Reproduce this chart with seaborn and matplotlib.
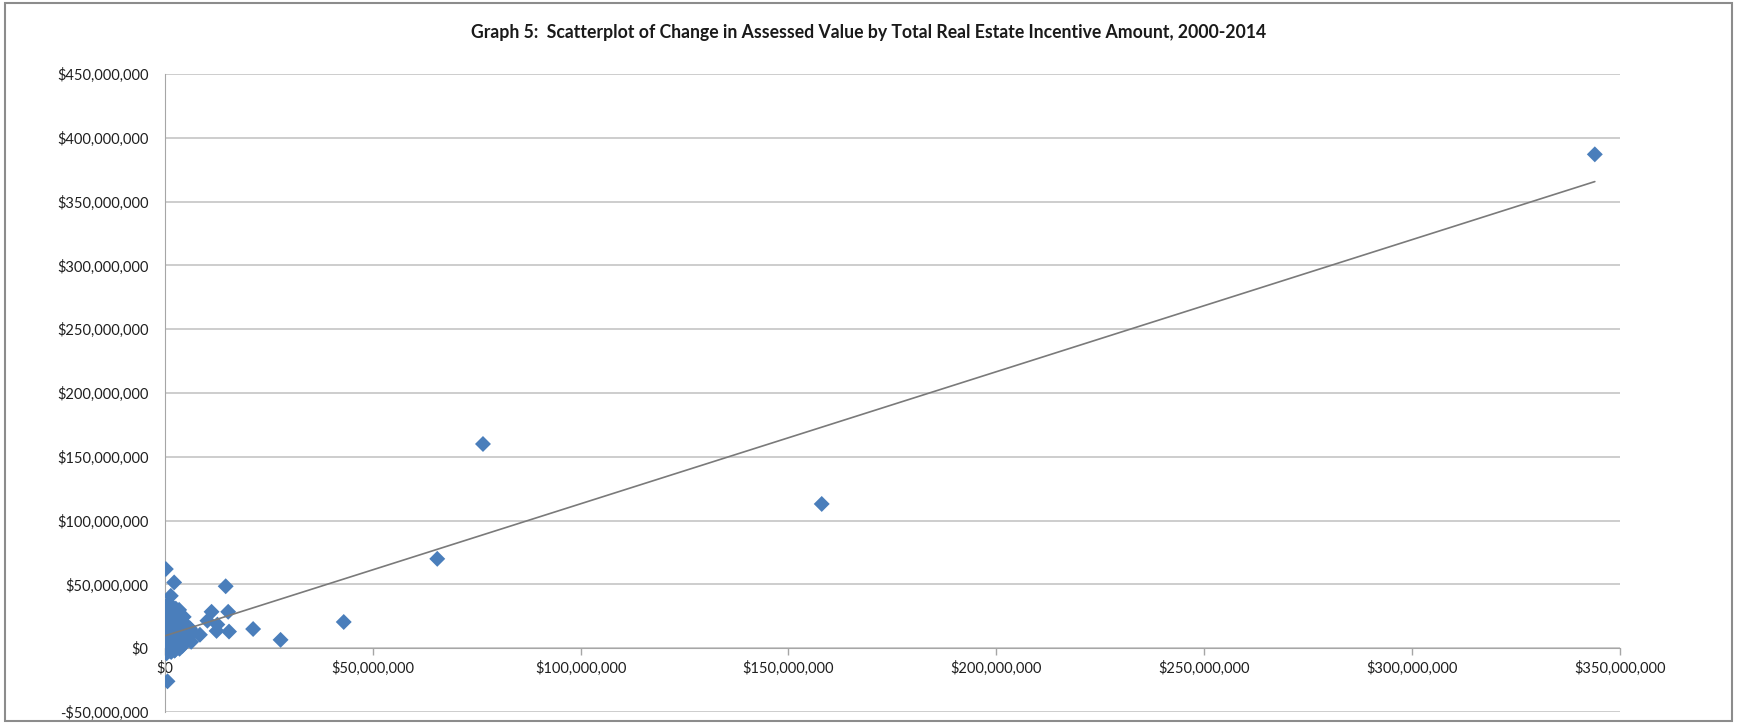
import matplotlib
matplotlib.use("Agg")

import matplotlib.pyplot as plt
import numpy as np
import pandas as pd
import seaborn as sns
from matplotlib.patches import Rectangle
from matplotlib.ticker import FuncFormatter, MultipleLocator

# Werte in Mio. $
incentive_m = [
    344.0, 158.0, 76.5, 65.5, 43.0, 27.8, 21.2, 15.4, 15.2, 14.6, 12.6, 12.4,
    11.2, 10.2, 8.4, 2.2, 1.4, 0.2, 0.6,
    # dichter Haufen nahe 0
    0.3, 1.0, 2.6, 3.4, 0.8, 1.8,
    0.1, 0.6, 1.3, 2.2, 3.0, 3.8, 4.5, 0.4, 1.7, 2.8,
    0.2, 0.9, 1.6, 2.4, 3.2, 4.0, 4.8, 5.5, 0.5, 1.3, 2.9, 6.0, 3.6,
    0.1, 0.7, 1.2, 1.9, 2.5, 3.1, 3.8, 4.5, 5.2, 6.1, 6.8, 0.4, 1.6, 2.8,
    0.2, 0.8, 1.4, 2.1, 2.7, 3.4, 4.1, 4.8, 5.5, 6.3, 0.5, 1.8, 3.0, 3.7,
    0.1, 0.6, 1.1, 1.7, 2.3, 2.9, 3.5, 0.3, 1.3, 2.0, 0.9, 4.2,
    0.4, 1.5, 2.4, 0.7, 3.3, 0.2, 1.1, 2.6,
]
value_change_m = [
    387.0, 113.0, 160.0, 70.0, 20.5, 6.5, 15.0, 13.0, 28.5, 48.5, 18.5, 13.5,
    28.5, 21.5, 10.5, 51.5, 41.0, 62.0, -26.0,
    33.0, 35.0, 31.0, 30.0, 29.5, 28.0,
    26.0, 24.0, 27.0, 25.0, 23.0, 22.0, 24.5, 22.0, 22.5, 27.0,
    20.0, 18.0, 19.5, 17.0, 19.0, 16.5, 18.0, 17.0, 15.5, 16.0, 15.0, 15.5, 20.5,
    13.0, 11.0, 14.0, 12.0, 10.0, 13.0, 11.0, 12.5, 10.0, 11.5, 12.0, 9.5, 9.0, 8.8,
    7.0, 5.0, 6.5, 4.0, 7.5, 5.5, 7.0, 4.5, 6.5, 5.0, 3.2, 3.0, 3.5, 8.0,
    1.0, -1.0, 2.0, 0.0, -2.0, 1.5, -0.5, -3.5, -2.5, 2.5, 0.5, 1.8,
    -4.0, -3.0, -1.5, 4.5, 0.5, 2.5, 8.0, 6.0,
]

title = "Graph 5:  Scatterplot of Change in Assessed Value by Total Real Estate Incentive Amount, 2000-2014"

df = pd.DataFrame({"incentive": incentive_m, "change": value_change_m})

sns.set_style("white")
plt.rcParams["font.family"] = ["Lato", "DejaVu Sans"]

fig = plt.figure(figsize=(17.37, 7.25), dpi=100)
ax = fig.add_axes([0.095, 0.018, 0.8375, 0.880])

sns.scatterplot(data=df, x="incentive", y="change", marker="D", s=66,
                color="#4a7ebb", edgecolor="none", ax=ax, zorder=3)
sns.regplot(data=df, x="incentive", y="change", ci=None, scatter=False,
            line_kws={"color": "#7a7a7a", "lw": 1.2, "zorder": 4}, ax=ax)

ax.set_xlim(0, 350)
ax.set_ylim(-50, 450)
ax.xaxis.set_major_locator(MultipleLocator(50))
ax.yaxis.set_major_locator(MultipleLocator(50))


def money(v, pos):
    s = f"${abs(v) * 1e6:,.0f}"
    return "-" + s if v < 0 else s


ax.xaxis.set_major_formatter(FuncFormatter(money))
ax.yaxis.set_major_formatter(FuncFormatter(money))

ax.grid(axis="y", color="#c0c0c0", lw=1.1)
ax.grid(axis="x", visible=False)
ax.set_axisbelow(True)

for side in ["top", "right"]:
    ax.spines[side].set_visible(False)
ax.spines["bottom"].set_position(("data", 0))
ax.spines["bottom"].set_color("#a6a6a6")
ax.spines["left"].set_color("#a6a6a6")
ax.spines["bottom"].set_zorder(2)

ax.tick_params(axis="x", direction="out", length=5, width=1, color="#a6a6a6",
               labelsize=10.5, labelcolor="#1f1f1f", pad=4, bottom=True)
ax.tick_params(axis="y", length=0, labelsize=10.5, labelcolor="#1f1f1f", pad=12)
ax.set_xlabel("")
ax.set_ylabel("")

fig.text(0.5, 0.955, title, ha="center", va="center", fontsize=12.7,
         fontweight="bold", color="#1a1a1a")

fig.patches.append(Rectangle((0.003, 0.006), 0.994, 0.99, transform=fig.transFigure,
                             fill=False, edgecolor="#8c8c8c", lw=1.5))

fig.savefig("out.png", dpi=100)
